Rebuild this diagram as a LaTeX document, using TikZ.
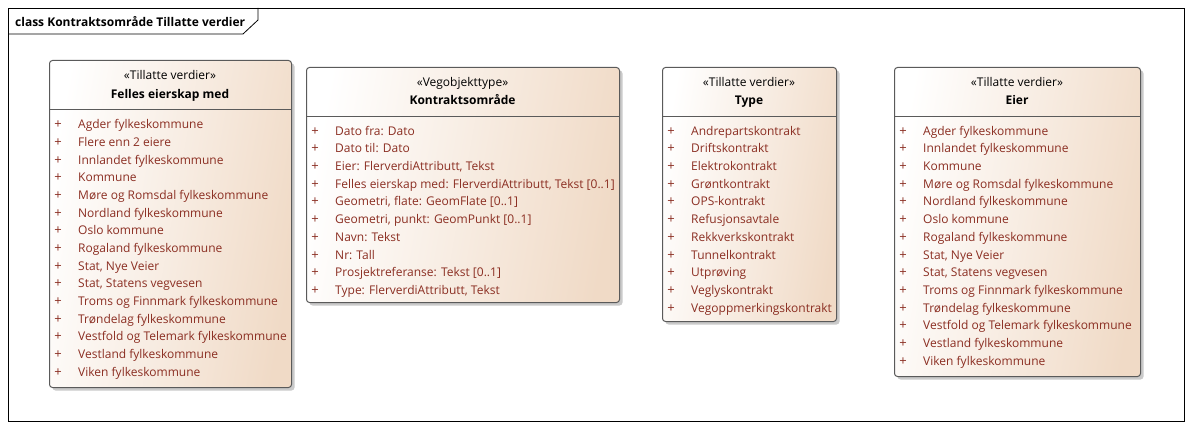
\documentclass[tikz,border=0pt]{standalone}
\usepackage{fontspec}
\setmainfont{Open Sans}
\usetikzlibrary{calc, shadows}
\definecolor{eaBrun}{HTML}{8B2E22}
\definecolor{eaTan}{HTML}{F0DAC6}
\definecolor{eaKant}{HTML}{5A5A5A}
\tikzset{
    klasse/.style={draw=eaKant, line width=1pt, rounded corners=3pt, anchor=north west,
        inner sep=0pt, left color=white, right color=eaTan, shading angle=80,
        drop shadow={shadow xshift=3pt, shadow yshift=-3pt, fill=black!35, opacity=0.6}},
    skille/.style={draw=eaKant, line width=0.8pt},
    stereo/.style={font=\fontsize{12}{14}\selectfont, inner sep=0pt, text height=9.5pt, text depth=0pt},
    navn/.style={stereo, font=\fontsize{12}{14}\selectfont\bfseries},
    pluss/.style={stereo, text=eaBrun, font=\fontsize{13}{14}\selectfont},
    verdi/.style={stereo, text=eaBrun, anchor=west}
}

\begin{document}
\begin{tikzpicture}[x=1pt, y=-1pt]
\useasboundingbox (0,0) rectangle (1193,430);

% --- Rahmen ---
\draw[line width=0.8pt] (8,8) rectangle (1184,421);
\draw[line width=0.8pt] (8,34) -- (243,34) -- (258,20) -- (258,8);
\node[navn, anchor=west] (tittel) at (15,21.5) {class Kontraktsområde Tillatte verdier};

% --- Felles eierskap med ---
\node[klasse, minimum width=242pt, minimum height=327pt] (felles) at (49,60) {};
\node[stereo] (felles-st) at (170,75) {«Tillatte verdier»};
\node[navn] (felles-navn) at (170,94) {Felles eierskap med};
\draw[skille] (felles.west |- 0,109) -- (felles.east |- 0,109);
\coordinate (felles-start) at (58,124);
\foreach \v [count=\i] in {Agder fylkeskommune, Flere enn 2 eiere, Innlandet fylkeskommune,
    Kommune, Møre og Romsdal fylkeskommune, Nordland fylkeskommune, Oslo kommune,
    Rogaland fylkeskommune, {Stat, Nye Veier}, {Stat, Statens vegvesen},
    Troms og Finnmark fylkeskommune, Trøndelag fylkeskommune,
    Vestfold og Telemark fylkeskommune, Vestland fylkeskommune, Viken fylkeskommune} {
    \node[pluss] (felles-p\i) at ($(felles-start)+(0,{(\i-1)*17.68})$) {+};
    \node[verdi] (felles-\i) at ($(felles-start)+(20,{(\i-1)*17.68})$) {\v};
}

% --- Kontraktsområde ---
\node[klasse, minimum width=313pt, minimum height=235pt] (kontrakt) at (306,67) {};
\node[stereo] (kontrakt-st) at (462.5,82) {«Vegobjekttype»};
\node[navn] (kontrakt-navn) at (462.5,100) {Kontraktsområde};
\draw[skille] (kontrakt.west |- 0,116) -- (kontrakt.east |- 0,116);
\coordinate (kontrakt-start) at (315,130.5);
\foreach \v [count=\i] in {Dato fra: Dato, Dato til: Dato, {Eier: FlerverdiAttributt, Tekst},
    {Felles eierskap med: FlerverdiAttributt, Tekst [0..1]}, {Geometri, flate: GeomFlate [0..1]},
    {Geometri, punkt: GeomPunkt [0..1]}, Navn: Tekst, Nr: Tall,
    Prosjektreferanse: Tekst [0..1], {Type: FlerverdiAttributt, Tekst}} {
    \node[pluss] (kontrakt-p\i) at ($(kontrakt-start)+(0,{(\i-1)*17.68})$) {+};
    \node[verdi] (kontrakt-\i) at ($(kontrakt-start)+(20,{(\i-1)*17.68})$) {\v};
}

% --- Type ---
\node[klasse, minimum width=174pt, minimum height=254pt] (type) at (662,67) {};
\node[stereo] (type-st) at (749,82) {«Tillatte verdier»};
\node[navn] (type-navn) at (749,100) {Type};
\draw[skille] (type.west |- 0,116) -- (type.east |- 0,116);
\coordinate (type-start) at (671,130.5);
\foreach \v [count=\i] in {Andrepartskontrakt, Driftskontrakt, Elektrokontrakt, Grøntkontrakt,
    OPS-kontrakt, Refusjonsavtale, Rekkverkskontrakt, Tunnelkontrakt, Utprøving,
    Veglyskontrakt, Vegoppmerkingskontrakt} {
    \node[pluss] (type-p\i) at ($(type-start)+(0,{(\i-1)*17.68})$) {+};
    \node[verdi] (type-\i) at ($(type-start)+(20,{(\i-1)*17.68})$) {\v};
}

% --- Eier ---
\node[klasse, minimum width=246pt, minimum height=309pt] (eier) at (894,67) {};
\node[stereo] (eier-st) at (1017,82) {«Tillatte verdier»};
\node[navn] (eier-navn) at (1017,100) {Eier};
\draw[skille] (eier.west |- 0,116) -- (eier.east |- 0,116);
\coordinate (eier-start) at (903,130.5);
\foreach \v [count=\i] in {Agder fylkeskommune, Innlandet fylkeskommune, Kommune,
    Møre og Romsdal fylkeskommune, Nordland fylkeskommune, Oslo kommune,
    Rogaland fylkeskommune, {Stat, Nye Veier}, {Stat, Statens vegvesen},
    Troms og Finnmark fylkeskommune, Trøndelag fylkeskommune,
    Vestfold og Telemark fylkeskommune, Vestland fylkeskommune, Viken fylkeskommune} {
    \node[pluss] (eier-p\i) at ($(eier-start)+(0,{(\i-1)*17.68})$) {+};
    \node[verdi] (eier-\i) at ($(eier-start)+(20,{(\i-1)*17.68})$) {\v};
}

\end{tikzpicture}
\end{document}
